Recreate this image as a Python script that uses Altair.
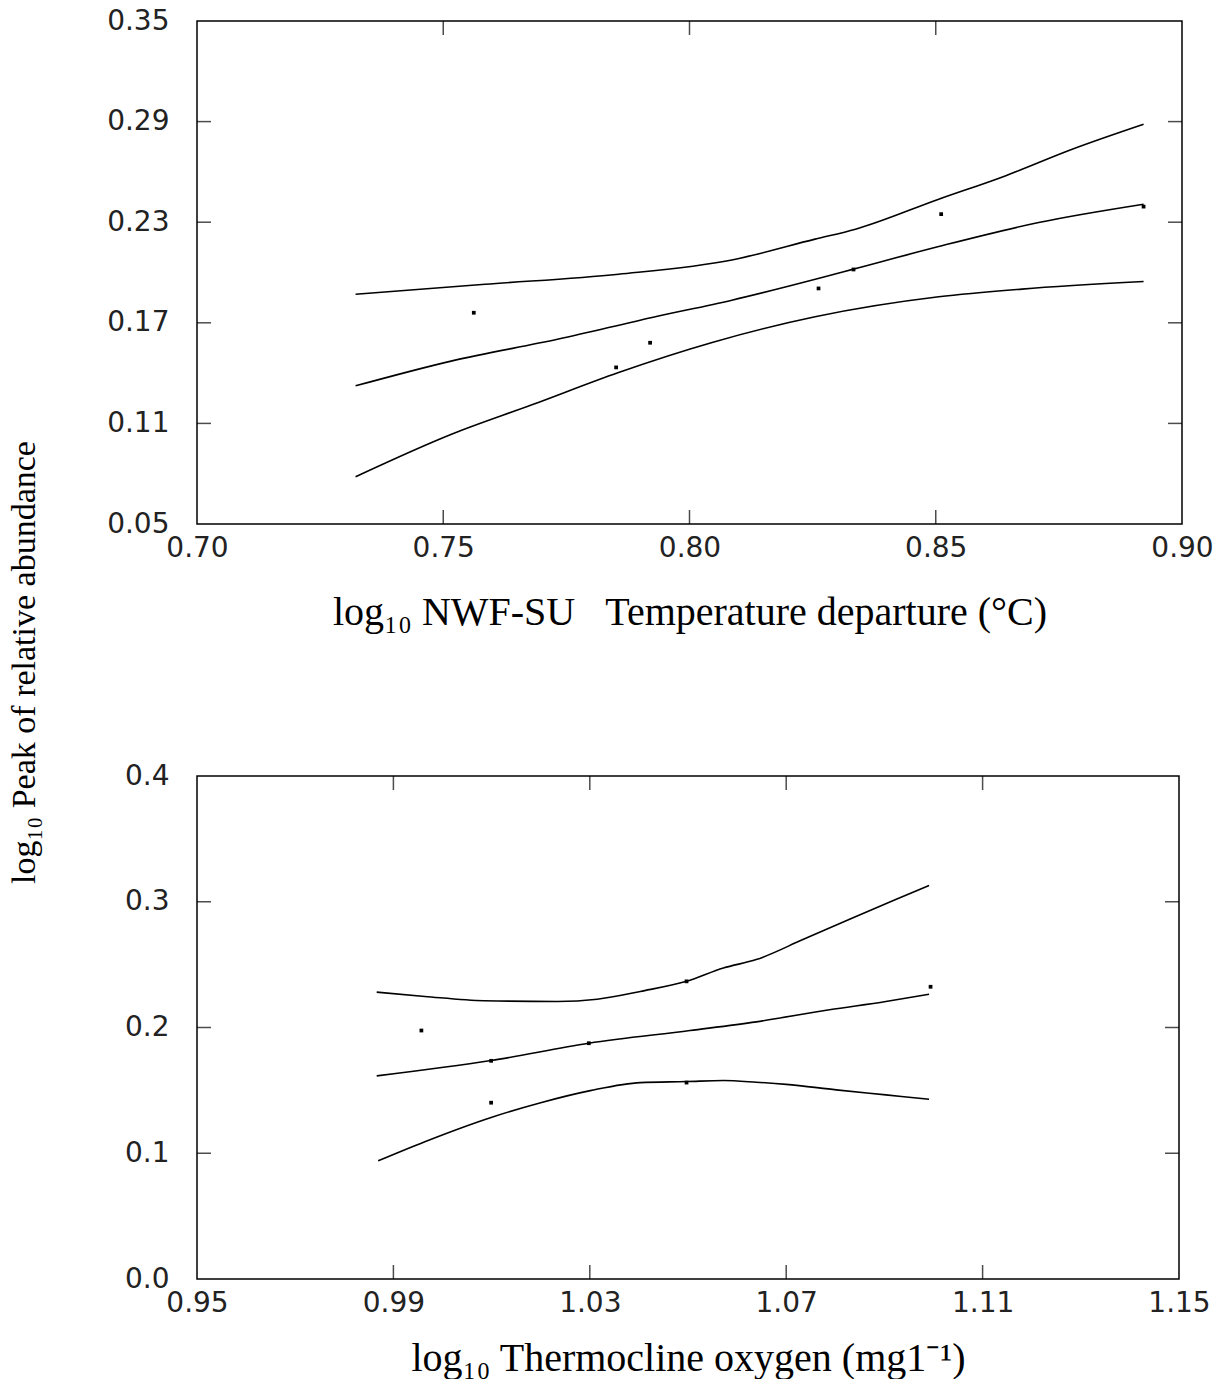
import altair as alt
import pandas as pd

# ---------------- Top panel (temperature departure) ----------------
top_pts_x = [0.7562, 0.7851, 0.7920, 0.8262, 0.8333, 0.8511, 0.8922]
top_pts_y = [0.1760, 0.1434, 0.1581, 0.1905, 0.2018, 0.2348, 0.2393]

top_fit_x = [0.7322, 0.7518, 0.7734, 0.7924, 0.8086, 0.8269, 0.8333, 0.8506, 0.8709, 0.8922]
top_fit_y = [0.1324, 0.1473, 0.1603, 0.1732, 0.1835, 0.1970, 0.2020, 0.2155, 0.2298, 0.2407]

top_up_x = [0.7322, 0.7585, 0.7856, 0.8086, 0.8255, 0.8337, 0.8506, 0.8641, 0.8777, 0.8922]
top_up_y = [0.1870, 0.1930, 0.1990, 0.2075, 0.2199, 0.2258, 0.2437, 0.2576, 0.2735, 0.2884]

top_lo_x = [0.7322, 0.7518, 0.7680, 0.7856, 0.8046, 0.8255, 0.8506, 0.8675, 0.8922]
top_lo_y = [0.0782, 0.1037, 0.1211, 0.1404, 0.1583, 0.1736, 0.1855, 0.1901, 0.1946]

top_xlabels = [0.70, 0.75, 0.80, 0.85, 0.90]
top_ylabels = [0.05, 0.11, 0.17, 0.23, 0.29, 0.35]
top_xticks = [0.75, 0.80, 0.85]
top_yticks = [0.11, 0.17, 0.23, 0.29]

# ---------------- Bottom panel (thermocline oxygen) ----------------
bot_pts_x = [0.9957, 1.0099, 1.0099, 1.0298, 1.0497, 1.0497, 1.0994]
bot_pts_y = [0.1976, 0.1735, 0.1402, 0.1875, 0.2367, 0.1562, 0.2324]

bot_fit_x = [0.9866, 1.0099, 1.0298, 1.0504, 1.0639, 1.0788, 1.0903, 1.0991]
bot_fit_y = [0.1615, 0.1737, 0.1875, 0.1976, 0.2045, 0.2141, 0.2207, 0.2265]

bot_up_x = [0.9866, 0.9964, 1.0085, 1.0234, 1.0315, 1.0403, 1.0497, 1.0572, 1.0639, 1.0734, 1.0835, 1.0923, 1.0991]
bot_up_y = [0.2281, 0.2247, 0.2213, 0.2207, 0.2225, 0.2287, 0.2367, 0.2473, 0.2540, 0.2699, 0.2871, 0.3018, 0.3129]

bot_lo_x = [0.9869, 0.9964, 1.0099, 1.0200, 1.0301, 1.0403, 1.0497, 1.0572, 1.0639, 1.0700, 1.0802, 1.0903, 1.0991]
bot_lo_y = [0.0940, 0.1092, 0.1285, 0.1402, 0.1498, 0.1562, 0.1570, 0.1578, 0.1565, 0.1548, 0.1504, 0.1464, 0.1429]

bot_xlabels = [0.95, 0.99, 1.03, 1.07, 1.11, 1.15]
bot_ylabels = [0.0, 0.1, 0.2, 0.3, 0.4]
bot_xticks = [0.99, 1.03, 1.07, 1.11]
bot_yticks = [0.1, 0.2, 0.3]

LABEL_FONT = "DejaVu Sans"
TITLE_FONT = "Liberation Serif"


def curves_df(pairs):
    rows = []
    for name, xs, ys in pairs:
        for x, y in zip(xs, ys):
            rows.append({"curve": name, "x": x, "y": y})
    return pd.DataFrame(rows)


def panel(pts_x, pts_y, fit, up, lo, xdom, ydom, xlabels, ylabels, xticks, yticks,
          xfmt, yfmt, xtitle, w, h, tpad):
    lines = curves_df([("fit", fit[0], fit[1]), ("upper", up[0], up[1]), ("lower", lo[0], lo[1])])
    pts = pd.DataFrame({"x": pts_x, "y": pts_y})
    xt = pd.DataFrame({"t": xticks})
    yt = pd.DataFrame({"t": yticks})

    xscale = alt.Scale(domain=xdom, nice=False, zero=False)
    yscale = alt.Scale(domain=ydom, nice=False, zero=False)

    xaxis = alt.Axis(values=xlabels, format=xfmt, title=xtitle, ticks=False, domain=False,
                     grid=False, labelFont=LABEL_FONT, labelFontSize=28, labelColor="#222",
                     labelPadding=10, titleFont=TITLE_FONT, titleFontSize=40,
                     titleFontWeight="normal", titleColor="black", titlePadding=tpad,
                     labelFlush=False, labelOverlap=False)
    yaxis = alt.Axis(values=ylabels, format=yfmt, title=None, ticks=False, domain=False,
                     grid=False, labelFont=LABEL_FONT, labelFontSize=28, labelColor="#222",
                     labelPadding=28, labelFlush=False, labelOverlap=False)

    line_layer = alt.Chart(lines).mark_line(color="black", strokeWidth=1.6,
                                            interpolate="monotone").encode(
        x=alt.X("x:Q", scale=xscale, axis=xaxis),
        y=alt.Y("y:Q", scale=yscale, axis=yaxis),
        detail="curve:N",
        order="x:Q",
    )
    pt_layer = alt.Chart(pts).mark_square(color="black", size=14, opacity=1).encode(
        x=alt.X("x:Q", scale=xscale),
        y=alt.Y("y:Q", scale=yscale),
    )
    tk = 14
    left_t = alt.Chart(yt).mark_tick(orient="horizontal", color="black", thickness=1.5, size=tk).encode(
        y=alt.Y("t:Q", scale=yscale), x=alt.value(tk / 2))
    right_t = alt.Chart(yt).mark_tick(orient="horizontal", color="black", thickness=1.5, size=tk).encode(
        y=alt.Y("t:Q", scale=yscale), x=alt.value(w - tk / 2))
    top_t = alt.Chart(xt).mark_tick(orient="vertical", color="black", thickness=1.5, size=tk).encode(
        x=alt.X("t:Q", scale=xscale), y=alt.value(tk / 2))
    bot_t = alt.Chart(xt).mark_tick(orient="vertical", color="black", thickness=1.5, size=tk).encode(
        x=alt.X("t:Q", scale=xscale), y=alt.value(h - tk / 2))

    return alt.layer(line_layer, pt_layer, left_t, right_t, top_t, bot_t).properties(width=w, height=h)


top = panel(top_pts_x, top_pts_y, (top_fit_x, top_fit_y), (top_up_x, top_up_y), (top_lo_x, top_lo_y),
            [0.70, 0.90], [0.05, 0.35], top_xlabels, top_ylabels, top_xticks, top_yticks,
            ".2f", ".2f", "log\u2081\u2080 NWF-SU \u00a0\u00a0Temperature departure (\u00b0C)", 985, 503, 30)

bottom = panel(bot_pts_x, bot_pts_y, (bot_fit_x, bot_fit_y), (bot_up_x, bot_up_y), (bot_lo_x, bot_lo_y),
               [0.95, 1.15], [0.0, 0.4], bot_xlabels, bot_ylabels, bot_xticks, bot_yticks,
               ".2f", ".1f", "log\u2081\u2080 Thermocline oxygen (mg1\u207b\u00b9)", 982, 503, 21)

chart = alt.vconcat(top, bottom, spacing=128).properties(
    title=alt.TitleParams(
        text="log\u2081\u2080 Peak of relative abundance",
        orient="left", anchor="middle", font=TITLE_FONT, fontSize=34,
        fontWeight="normal", color="black", offset=64, dx=30,
    ),
    padding={"left": 7, "top": 6, "right": 5, "bottom": 0},
    background="white",
).configure_view(stroke="black", strokeWidth=1.5)

chart.save("out.html", embed_options={"renderer": "svg", "actions": False})
